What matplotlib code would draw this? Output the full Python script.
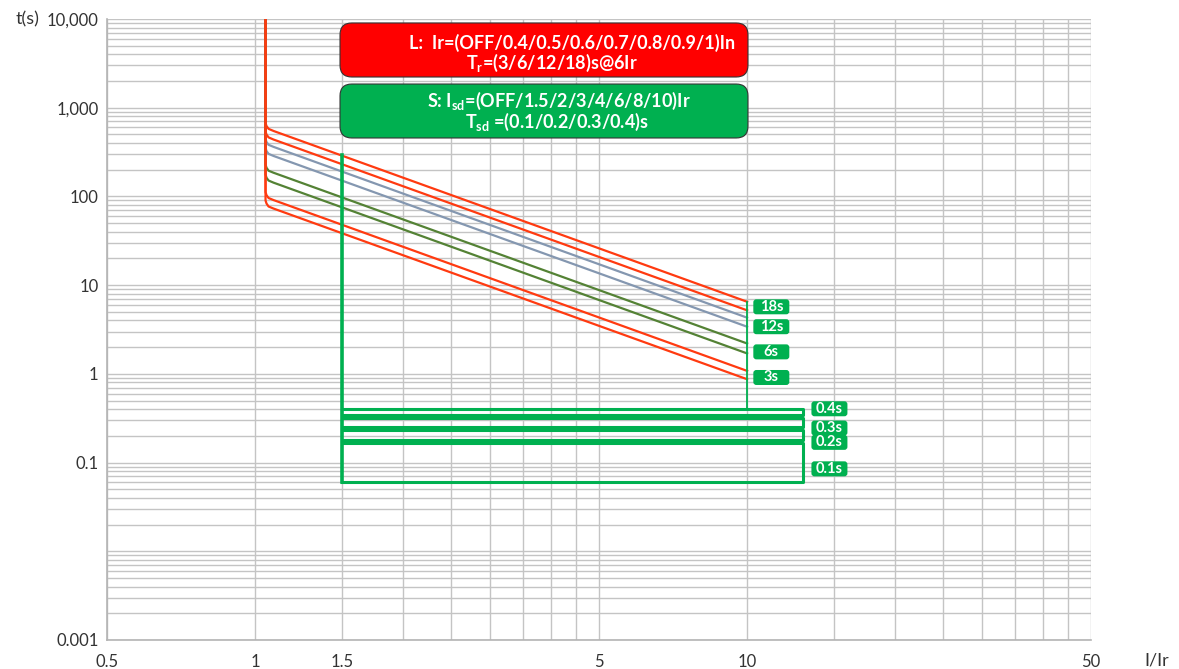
import matplotlib.pyplot as plt
from matplotlib import ticker, transforms
from matplotlib.patches import FancyBboxPatch

plt.rcParams['font.family'] = ['Lato', 'DejaVu Sans']
plt.rcParams['mathtext.fontset'] = 'custom'
plt.rcParams['mathtext.bf'] = 'Lato:bold'
plt.rcParams['mathtext.rm'] = 'Lato:bold'

RED = '#ff3a10'
GREY = '#8497b0'
OLIVE = '#548235'
GREEN = '#00b050'

# long time (L) curves: current points (I/Ir) and times (s)
L_I = [1.05, 1.05, 1.055, 1.065, 1.09, 10]
L_18_HI = [10000, 670, 620, 578, 547, 6.5]
L_18_LO = [10000, 540, 497, 463, 438, 5.2]
L_12_HI = [10000, 445, 410, 382, 362, 4.3]
L_12_LO = [10000, 352, 324, 302, 286, 3.4]
L_6_HI = [10000, 228, 210, 195, 185, 2.2]
L_6_LO = [10000, 176, 162, 151, 143, 1.7]
L_3_HI = [10000, 112, 103, 96, 91, 1.08]
L_3_LO = [10000, 90, 83, 77, 73, 0.87]
L_CURVES = [(L_18_HI, RED), (L_18_LO, RED), (L_12_HI, GREY), (L_12_LO, GREY),
            (L_6_HI, OLIVE), (L_6_LO, OLIVE), (L_3_HI, RED), (L_3_LO, RED)]
L_LABELS = ['18s', '12s', '6s', '3s']
L_LABEL_T = [5.7, 3.4, 1.77, 0.91]
L_LABEL_I = 11.2

# short time (S) bands
S_PICKUP = 1.5
S_TOP = 290
S_END = 13
S_BANDS = [(0.34, 0.40), (0.25, 0.32), (0.18, 0.23), (0.06, 0.165)]
S_LABELS = ['0.4s', '0.3s', '0.2s', '0.1s']
S_LABEL_T = [0.404, 0.245, 0.169, 0.085]
S_LABEL_I = 14.7

X_TICKS = [0.5, 1, 1.5, 5, 10, 50]
X_TICKLABELS = ['0.5', '1', '1.5', '5', '10', '50']
X_GRID = [2, 2.5, 3, 3.5, 4, 4.5, 15, 20, 25, 30, 35, 40, 45]
Y_TICKS = [0.001, 0.01, 0.1, 1, 10, 100, 1000, 10000]
Y_TICKLABELS = ['0.001', '', '0.1', '1', '10', '100', '1,000', '10,000']

fig = plt.figure(figsize=(11.79, 6.69), dpi=100)
ax = fig.add_axes([107 / 1179, 29 / 669, 984 / 1179, 621 / 669])
ax.set_xscale('log')
ax.set_yscale('log')
ax.set_xlim(0.5, 50)
ax.set_ylim(0.001, 10000)

ax.xaxis.set_major_locator(ticker.FixedLocator(X_TICKS))
ax.xaxis.set_major_formatter(ticker.FixedFormatter(X_TICKLABELS))
ax.xaxis.set_minor_locator(ticker.FixedLocator(X_GRID))
ax.xaxis.set_minor_formatter(ticker.NullFormatter())
ax.yaxis.set_major_locator(ticker.FixedLocator(Y_TICKS))
ax.yaxis.set_major_formatter(ticker.FixedFormatter(Y_TICKLABELS))
ax.yaxis.set_minor_locator(ticker.LogLocator(base=10, subs=range(2, 10), numticks=20))
ax.yaxis.set_minor_formatter(ticker.NullFormatter())
ax.tick_params(which='both', length=0, labelsize=12, labelcolor='#333333')
ax.tick_params(axis='x', pad=10)
ax.tick_params(axis='y', pad=6)
ax.grid(True, which='both', color='#c4c4c4', linewidth=1)
ax.set_axisbelow(True)
for s in ['top', 'right']:
    ax.spines[s].set_visible(False)
for s in ['left', 'bottom']:
    ax.spines[s].set_color('#b4b4b4')
    ax.spines[s].set_linewidth(1.2)

for t, c in L_CURVES:
    ax.plot(L_I, t, color=c, lw=1.6, solid_joinstyle='round')

# S protection
ax.plot([S_PICKUP, S_PICKUP], [S_TOP, S_BANDS[-1][0]], color=GREEN, lw=2.6)
ax.plot([L_I[-1], L_I[-1]], [L_18_HI[-1], S_BANDS[0][1]], color=GREEN, lw=1.3)
for lo, hi in S_BANDS:
    ax.plot([S_PICKUP, S_END, S_END, S_PICKUP], [hi, hi, lo, lo], color=GREEN, lw=2.2)


def tag(x, y, text):
    tr = fig.dpi_scale_trans + transforms.ScaledTranslation(x, y, ax.transData)
    w, h = 0.36, 0.15
    ax.add_patch(FancyBboxPatch((-w / 2, -h / 2), w, h, boxstyle='round,pad=0,rounding_size=0.03',
                                fc=GREEN, ec='none', transform=tr, clip_on=False, zorder=5))
    ax.text(x, y, text, color='white', fontsize=10.5, fontweight='bold', ha='center', va='center',
            zorder=6)


for lab, t in zip(L_LABELS, L_LABEL_T):
    tag(L_LABEL_I, t, lab)
for lab, t in zip(S_LABELS, S_LABEL_T):
    tag(S_LABEL_I, t, lab)

# setting boxes
for y0, y1, fc in [(0.9066, 0.9936, '#ff0000'), (0.8084, 0.8953, GREEN)]:
    ax.add_patch(FancyBboxPatch((0.2368, y0), 0.4146, y1 - y0,
                                boxstyle='round,pad=0,rounding_size=0.012',
                                mutation_aspect=1.6, fc=fc, ec='#333333', lw=0.8,
                                transform=ax.transAxes, zorder=7))

kw = dict(transform=ax.transAxes, color='white', fontsize=13, fontweight='bold',
          ha='center', va='center', zorder=8)
ax.text(0.4730, 0.9620, 'L:  Ir=(OFF/0.4/0.5/0.6/0.7/0.8/0.9/1)In', **kw)
ax.text(0.4522, 0.9290, r'T$_{\mathbf{r}}$=(3/6/12/18)s@6Ir', **kw)
ax.text(0.4594, 0.8680, r'S: I$_{\mathbf{sd}}$=(OFF/1.5/2/3/4/6/8/10)Ir', **kw)
ax.text(0.4573, 0.8347, r'T$_{\mathbf{sd}}$ =(0.1/0.2/0.3/0.4)s', **kw)

fig.text(28 / 1179, 1 - 19 / 669, 't(s)', fontsize=13, color='#333333', ha='center', va='center')
fig.text(1157 / 1179, 1 - 660 / 669, 'I/Ir', fontsize=13, color='#333333', ha='center', va='center')

fig.savefig('out.png', dpi=100)
